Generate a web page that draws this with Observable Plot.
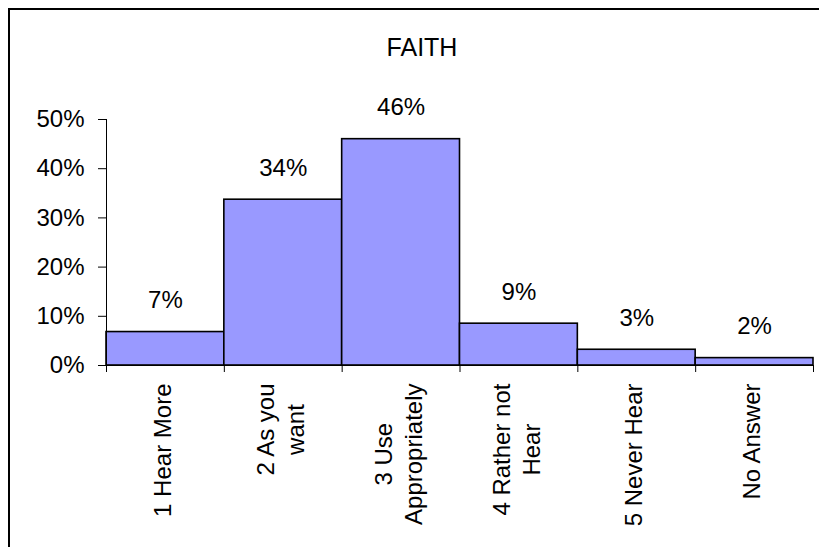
<!DOCTYPE html>
<html><head><meta charset="utf-8">
<script src="https://cdn.jsdelivr.net/npm/d3@7"></script>
<script src="https://cdn.jsdelivr.net/npm/@observablehq/plot@0.6"></script>
<style>
body{margin:0;background:#fff;overflow:hidden}
#wrap{position:relative;width:819px;height:547px;overflow:hidden}
#border{position:absolute;left:8px;top:8px;width:900px;height:900px;border-left:2px solid #000;border-top:2px solid #000;}
#wrap svg{position:absolute;left:0;top:0}
</style></head><body>
<div id="wrap"><div id="border"></div></div>
<script>
const title = "FAITH";
const categories = ["1 Hear More", "2 As you\nwant", "3 Use\nAppropriately", "4 Rather not\nHear", "5 Never Hear", "No Answer"];
const values = [0.068, 0.337, 0.46, 0.085, 0.032, 0.015];
const valueLabels = ["7%", "34%", "46%", "9%", "3%", "2%"];
const yTicks = [0, 0.1, 0.2, 0.3, 0.4, 0.5];

const data = categories.map((c, i) => ({i, c, v: values[i], label: valueLabels[i]}));
const edges = d3.range(categories.length + 1);
const font = "'Liberation Sans', Arial, sans-serif";

const chart = Plot.plot({
  width: 819, height: 547,
  marginTop: 119, marginBottom: 182, marginLeft: 106, marginRight: 6,
  style: {fontFamily: font, fontSize: "24px", background: "transparent", color: "#000"},
  x: {domain: [0, categories.length]},
  y: {domain: [0, 0.5]},
  marks: [
    Plot.rectY(data, {x1: "i", x2: d => d.i + 1, y: "v", fill: "#9999ff", stroke: "#000", strokeWidth: 1.6}),
    Plot.ruleY([0], {stroke: "#000"}),
    Plot.ruleX([0], {stroke: "#000"}),
    Plot.axisY({ticks: yTicks, tickFormat: d => Math.round(d * 100) + "%", tickSize: 8, tickPadding: 14, fontSize: 24, label: null}),
    Plot.axisX({ticks: edges, tickSize: 7, tickFormat: () => "", label: null}),
    Plot.text(data, {x: d => d.i + 0.5, text: "c", frameAnchor: "bottom", dy: 18, dx: -4, rotate: -90, textAnchor: "end", lineAnchor: "middle", lineHeight: 1.25, fontSize: 24}),
    Plot.text(data, {x: d => d.i + 0.5, y: "v", text: "label", dy: -24, lineAnchor: "bottom", fontSize: 24}),
    Plot.text([title], {text: d => d, frameAnchor: "top", dx: -38, dy: -64, lineAnchor: "bottom", fontSize: 25})
  ]
});
document.getElementById("wrap").appendChild(chart);
// center the lines of the multi-line (rotated) category labels on each other
d3.select(chart).selectAll("text").each(function() {
  const spans = Array.from(this.querySelectorAll("tspan"));
  if (spans.length < 2) return;
  const w = spans.map(s => s.getComputedTextLength());
  const m = Math.max(...w);
  spans.forEach((s, k) => s.setAttribute("x", -(m - w[k]) / 2));
});
</script>
</body></html>
